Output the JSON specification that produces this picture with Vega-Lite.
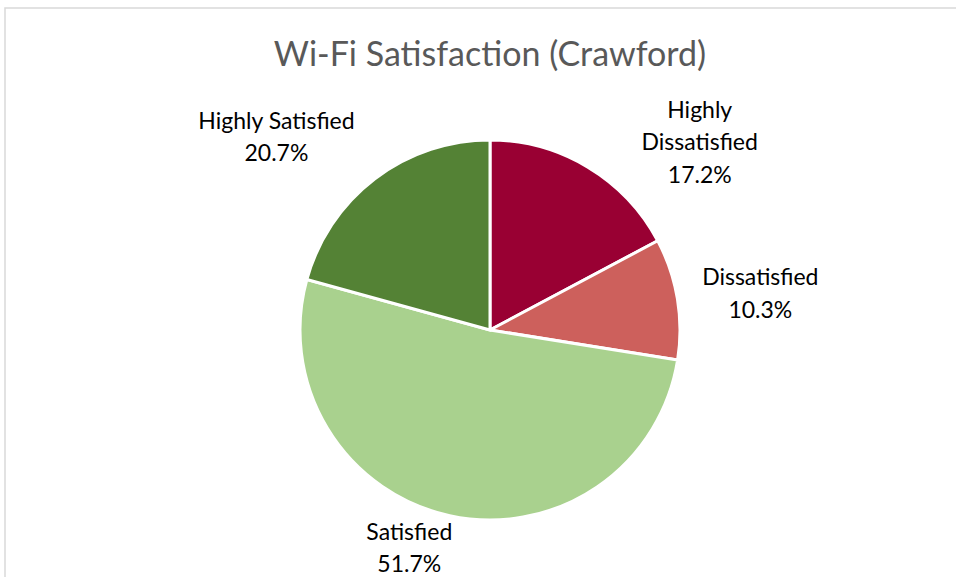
{
  "$schema": "https://vega.github.io/schema/vega-lite/v6.json",
  "autosize": {"type": "none"},
  "width": 970,
  "height": 644,
  "padding": {"left": 5, "top": 8, "right": 0, "bottom": 0},
  "background": "white",
  "view": {"stroke": "#D9D9D9", "strokeWidth": 1.5, "fill": "white"},
  "config": {"view": {"stroke": "#D9D9D9", "strokeWidth": 1.5}},
  "title": {
    "text": "Wi-Fi Satisfaction (Crawford)",
    "font": "Lato",
    "fontSize": 34,
    "fontWeight": "normal",
    "color": "#595959",
    "anchor": "middle",
    "frame": "group",
    "baseline": "alphabetic",
    "offset": -92
  },
  "data": {
    "values": [
      {"category": "Highly Dissatisfied", "value": 0.172, "idx": 1},
      {"category": "Dissatisfied", "value": 0.103, "idx": 2},
      {"category": "Satisfied", "value": 0.517, "idx": 3},
      {"category": "Highly Satisfied", "value": 0.207, "idx": 4}
    ]
  },
  "layer": [
    {
      "mark": {"type": "arc", "outerRadius": 190, "stroke": "white", "strokeWidth": 3},
      "encoding": {
        "theta": {"field": "value", "type": "quantitative", "stack": true},
        "order": {"field": "idx", "type": "quantitative"},
        "color": {
          "field": "category",
          "type": "nominal",
          "legend": null,
          "scale": {
            "domain": ["Highly Dissatisfied", "Dissatisfied", "Satisfied", "Highly Satisfied"],
            "range": ["#990033", "#CD605C", "#A9D18E", "#548235"]
          }
        }
      }
    },
    {
      "mark": {"type": "text", "font": "Lato", "fontSize": 23, "color": "#000000", "radius": 250, "dx": 81, "dy": -5, "lineBreak": " ", "lineHeight": 32, "baseline": "middle", "align": "center"},
      "encoding": {
        "theta": {"field": "value", "type": "quantitative", "stack": true},
        "order": {"field": "idx", "type": "quantitative"},
        "detail": {"field": "category", "type": "nominal"},
        "text": {"condition": {"test": "datum.category === 'Highly Dissatisfied'", "field": "category", "type": "nominal"}, "value": ""}
      }
    },
    {
      "mark": {"type": "text", "font": "Lato", "fontSize": 23, "color": "#000000", "radius": 250, "dx": 81, "dy": 60, "baseline": "middle", "align": "center"},
      "encoding": {
        "theta": {"field": "value", "type": "quantitative", "stack": true},
        "order": {"field": "idx", "type": "quantitative"},
        "detail": {"field": "category", "type": "nominal"},
        "text": {"condition": {"test": "datum.category === 'Highly Dissatisfied'", "field": "value", "type": "quantitative", "format": ".1%"}, "value": ""}
      }
    },
    {
      "mark": {"type": "text", "font": "Lato", "fontSize": 23, "color": "#000000", "radius": 270, "dx": 4, "dy": -8, "baseline": "middle", "align": "center"},
      "encoding": {
        "theta": {"field": "value", "type": "quantitative", "stack": true},
        "order": {"field": "idx", "type": "quantitative"},
        "detail": {"field": "category", "type": "nominal"},
        "text": {"condition": {"test": "datum.category === 'Dissatisfied'", "field": "category", "type": "nominal"}, "value": ""}
      }
    },
    {
      "mark": {"type": "text", "font": "Lato", "fontSize": 23, "color": "#000000", "radius": 270, "dx": 4, "dy": 25, "baseline": "middle", "align": "center"},
      "encoding": {
        "theta": {"field": "value", "type": "quantitative", "stack": true},
        "order": {"field": "idx", "type": "quantitative"},
        "detail": {"field": "category", "type": "nominal"},
        "text": {"condition": {"test": "datum.category === 'Dissatisfied'", "field": "value", "type": "quantitative", "format": ".1%"}, "value": ""}
      }
    },
    {
      "mark": {"type": "text", "font": "Lato", "fontSize": 23, "color": "#000000", "radius": 220, "dx": -34, "dy": -12, "baseline": "middle", "align": "center"},
      "encoding": {
        "theta": {"field": "value", "type": "quantitative", "stack": true},
        "order": {"field": "idx", "type": "quantitative"},
        "detail": {"field": "category", "type": "nominal"},
        "text": {"condition": {"test": "datum.category === 'Satisfied'", "field": "category", "type": "nominal"}, "value": ""}
      }
    },
    {
      "mark": {"type": "text", "font": "Lato", "fontSize": 23, "color": "#000000", "radius": 220, "dx": -34, "dy": 20, "baseline": "middle", "align": "center"},
      "encoding": {
        "theta": {"field": "value", "type": "quantitative", "stack": true},
        "order": {"field": "idx", "type": "quantitative"},
        "detail": {"field": "category", "type": "nominal"},
        "text": {"condition": {"test": "datum.category === 'Satisfied'", "field": "value", "type": "quantitative", "format": ".1%"}, "value": ""}
      }
    },
    {
      "mark": {"type": "text", "font": "Lato", "fontSize": 23, "color": "#000000", "radius": 260, "dx": -56, "dy": -1, "baseline": "middle", "align": "center"},
      "encoding": {
        "theta": {"field": "value", "type": "quantitative", "stack": true},
        "order": {"field": "idx", "type": "quantitative"},
        "detail": {"field": "category", "type": "nominal"},
        "text": {"condition": {"test": "datum.category === 'Highly Satisfied'", "field": "category", "type": "nominal"}, "value": ""}
      }
    },
    {
      "mark": {"type": "text", "font": "Lato", "fontSize": 23, "color": "#000000", "radius": 260, "dx": -56, "dy": 31, "baseline": "middle", "align": "center"},
      "encoding": {
        "theta": {"field": "value", "type": "quantitative", "stack": true},
        "order": {"field": "idx", "type": "quantitative"},
        "detail": {"field": "category", "type": "nominal"},
        "text": {"condition": {"test": "datum.category === 'Highly Satisfied'", "field": "value", "type": "quantitative", "format": ".1%"}, "value": ""}
      }
    }
  ]
}
